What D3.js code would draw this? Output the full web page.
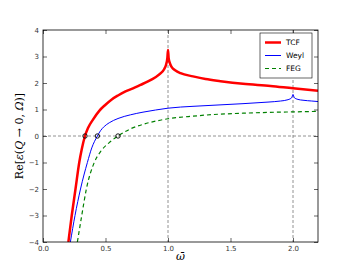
<!DOCTYPE html>
<html>
<head>
<meta charset="utf-8">
<script src="https://cdn.jsdelivr.net/npm/d3@7"></script>
<style>
  body { margin: 0; background: #fff; }
</style>
</head>
<body>
<script>
    // Values
    const tcfX = [0.203, 0.23, 0.26, 0.29, 0.31, 0.336, 0.36, 0.4, 0.45, 0.5, 0.55, 0.6, 0.66, 0.72, 0.78, 0.84, 0.9, 0.94, 0.97, 0.985, 0.995, 1.0, 1.005, 1.015, 1.03, 1.06, 1.1, 1.2, 1.3, 1.42, 1.6, 1.82, 2.0, 2.2];
    const tcfY = [-4, -3, -2, -1, -0.5, 0, 0.3, 0.62, 0.95, 1.18, 1.38, 1.53, 1.68, 1.8, 1.93, 2.06, 2.22, 2.36, 2.53, 2.7, 2.95, 3.25, 2.95, 2.75, 2.6, 2.47, 2.37, 2.25, 2.15, 2.07, 1.97, 1.89, 1.8, 1.71];

    const weylX = [0.219, 0.256, 0.30, 0.355, 0.39, 0.435, 0.46, 0.49, 0.53, 0.6, 0.7, 0.8, 0.9, 1.0, 1.2, 1.4, 1.6, 1.8, 1.9, 1.96, 1.99, 2.0, 2.01, 2.04, 2.08, 2.15, 2.2];
    const weylY = [-4, -3, -2, -1, -0.45, 0, 0.2, 0.36, 0.5, 0.66, 0.8, 0.9, 0.98, 1.05, 1.12, 1.17, 1.22, 1.28, 1.32, 1.37, 1.45, 1.57, 1.45, 1.38, 1.35, 1.32, 1.3];

    const fegX = [0.275, 0.31, 0.347, 0.41, 0.46, 0.53, 0.6, 0.7, 0.8, 0.9, 1.0, 1.2, 1.4, 1.6, 1.8, 2.0, 2.2];
    const fegY = [-4, -3, -2, -1, -0.59, -0.25, 0, 0.27, 0.44, 0.56, 0.65, 0.75, 0.82, 0.86, 0.89, 0.91, 0.93];

    const zeroX = [0.336, 0.435, 0.6];
    const xTicks = [0.0, 0.5, 1.0, 1.5, 2.0];
    const yTicks = [-4, -3, -2, -1, 0, 1, 2, 3, 4];
    const vLines = [1, 2];

    const series = [
      { name: "TCF", xs: tcfX, ys: tcfY, color: "#ff0000", width: 2.5, dash: null },
      { name: "Weyl", xs: weylX, ys: weylY, color: "#0000ff", width: 1, dash: null },
      { name: "FEG", xs: fegX, ys: fegY, color: "#008000", width: 1.2, dash: "4,3" },
    ];

    const width = 354, height = 265;
    const margin = { left: 43, right: 36, top: 30, bottom: 23 };
    const w = width - margin.left - margin.right;
    const h = height - margin.top - margin.bottom;

    const svg = d3.select("body").append("svg")
      .attr("width", width)
      .attr("height", height);

    const g = svg.append("g").attr("transform", `translate(${margin.left},${margin.top})`);

    const x = d3.scaleLinear().domain([0, 2.2]).range([0, w]);
    const y = d3.scaleLinear().domain([-4, 4]).range([h, 0]);

    svg.append("defs").append("clipPath").attr("id", "clip")
      .append("rect").attr("width", w).attr("height", h);

    // reference lines
    g.selectAll(".vline").data(vLines).enter().append("line")
      .attr("x1", d => x(d)).attr("x2", d => x(d))
      .attr("y1", 0).attr("y2", h)
      .attr("stroke", "#777").attr("stroke-width", 0.8).attr("stroke-dasharray", "3,2");
    g.append("line")
      .attr("x1", 0).attr("x2", w).attr("y1", y(0)).attr("y2", y(0))
      .attr("stroke", "#777").attr("stroke-width", 0.8).attr("stroke-dasharray", "3,2");

    const line = d3.line().x(d => x(d[0])).y(d => y(d[1])).curve(d3.curveMonotoneX);
    const plot = g.append("g").attr("clip-path", "url(#clip)");
    series.forEach(s => {
      plot.append("path")
        .datum(s.xs.map((v, i) => [v, s.ys[i]]))
        .attr("d", line)
        .attr("fill", "none")
        .attr("stroke", s.color)
        .attr("stroke-width", s.width)
        .attr("stroke-dasharray", s.dash);
    });

    // zero crossings
    g.selectAll(".zero").data(zeroX).enter().append("circle")
      .attr("cx", d => x(d)).attr("cy", y(0)).attr("r", 2.2)
      .attr("fill", "none").attr("stroke", "#000").attr("stroke-width", 0.9);

    // axes, matplotlib classic: ticks inside on all sides
    const fmtY = d => d < 0 ? "\u2212" + Math.abs(d) : String(d);
    const axB = g.append("g").attr("transform", `translate(0,${h})`)
      .call(d3.axisBottom(x).tickValues(xTicks).tickFormat(d3.format(".1f")).tickSizeInner(-4).tickSizeOuter(0).tickPadding(4));
    const axT = g.append("g")
      .call(d3.axisTop(x).tickValues(xTicks).tickFormat("").tickSizeInner(-4).tickSizeOuter(0));
    const axL = g.append("g")
      .call(d3.axisLeft(y).tickValues(yTicks).tickFormat(fmtY).tickSizeInner(-4).tickSizeOuter(0).tickPadding(4));
    const axR = g.append("g").attr("transform", `translate(${w},0)`)
      .call(d3.axisRight(y).tickValues(yTicks).tickFormat("").tickSizeInner(-4).tickSizeOuter(0));
    [axB, axT, axL, axR].forEach(a => {
      a.select(".domain").remove();
      a.selectAll("line").attr("stroke", "#000").attr("stroke-width", 0.6);
      a.selectAll("text").attr("font-size", 7).attr("fill", "#333").attr("font-family", "DejaVu Sans");
    });

    g.append("rect").attr("width", w).attr("height", h)
      .attr("fill", "none").attr("stroke", "#000").attr("stroke-width", 0.8);

    // legend
    const lg = g.append("g").attr("transform", `translate(${w - 58},3)`);
    lg.append("rect").attr("width", 52).attr("height", 45)
      .attr("fill", "#fff").attr("stroke", "#000").attr("stroke-width", 0.6);
    series.forEach((s, i) => {
      const yy = 9.5 + i * 13;
      lg.append("line").attr("x1", 5).attr("x2", 21).attr("y1", yy).attr("y2", yy)
        .attr("stroke", s.color).attr("stroke-width", s.width).attr("stroke-dasharray", s.dash);
      lg.append("text").attr("x", 26).attr("y", yy).attr("dy", "0.35em")
        .attr("font-family", "DejaVu Sans")
        .attr("font-size", 7.5).attr("fill", "#000").text(s.name);
    });

    // axis labels
    const yl = svg.append("text")
      .attr("transform", `translate(23,${margin.top + h / 2}) rotate(-90)`)
      .attr("text-anchor", "middle")
      .attr("font-family", "DejaVu Serif")
      .attr("font-size", 11);
    yl.append("tspan").text("Re[");
    yl.append("tspan").attr("font-style", "italic").text("\u03b5");
    yl.append("tspan").text("(");
    yl.append("tspan").attr("font-style", "italic").text("Q");
    yl.append("tspan").text(" \u2192 0, ");
    yl.append("tspan").attr("font-style", "italic").text("\u03a9");
    yl.append("tspan").text(")]");

    svg.append("text")
      .attr("x", margin.left + w / 2).attr("y", 260)
      .attr("text-anchor", "middle")
      .attr("font-family", "DejaVu Serif").attr("font-style", "italic")
      .attr("font-size", 11)
      .text("\u03c9\u0304");
</script>
</body>
</html>
